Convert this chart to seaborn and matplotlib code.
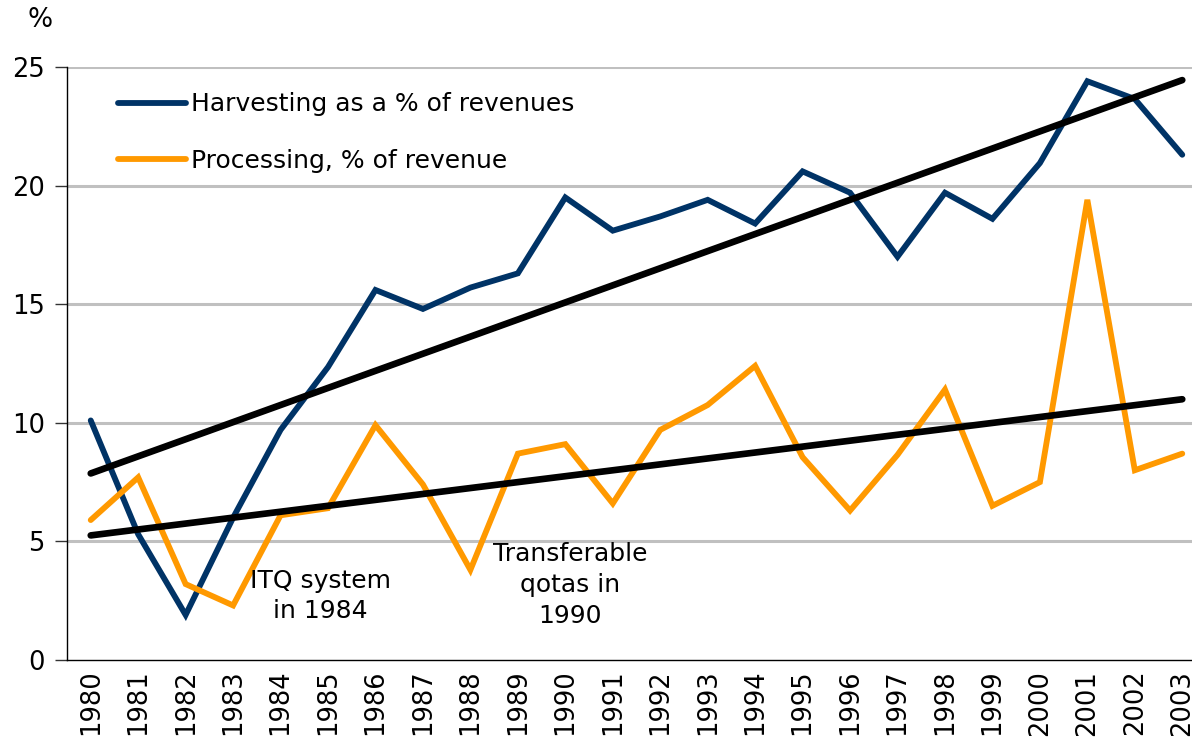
import numpy as np
import pandas as pd
import matplotlib
matplotlib.use("Agg")
import matplotlib.pyplot as plt
import seaborn as sns

# data
years = list(range(1980, 2004))
harvesting = [10.1, 5.3, 1.9, 6.0, 9.7, 12.35, 15.6, 14.8, 15.7, 16.3, 19.5, 18.1,
              18.7, 19.4, 18.4, 20.6, 19.7, 17.0, 19.7, 18.6, 20.95, 24.4, 23.65, 21.3]
processing = [5.9, 7.7, 3.2, 2.3, 6.1, 6.4, 9.9, 7.4, 3.8, 8.7, 9.1, 6.6,
              9.7, 10.75, 12.4, 8.55, 6.3, 8.65, 11.4, 6.5, 7.5, 19.4, 8.0, 8.7]
series_names = ["Harvesting as a % of revenues", "Processing, % of revenue"]
colors = ["#003366", "#FF9900"]

sns.set_style("white")
plt.rcParams['font.family'] = ['DejaVu Sans']
plt.rcParams['text.color'] = 'black'
plt.rcParams['xtick.color'] = 'black'
plt.rcParams['ytick.color'] = 'black'

pos = np.arange(len(years))
df = pd.DataFrame({
    "pos": np.concatenate([pos, pos]),
    "value": harvesting + processing,
    "series": [series_names[0]] * len(years) + [series_names[1]] * len(years),
})

fig = plt.figure(figsize=(11.92, 7.40), dpi=100)
ax = fig.add_axes([67 / 1192, 80 / 740, 1139 / 1192, 593 / 740])

for y in [5, 10, 15, 20, 25]:
    ax.axhline(y, color="#C0C0C0", lw=2.2, zorder=0)

sns.lineplot(data=df, x="pos", y="value", hue="series", palette=colors,
             linewidth=4.2, ax=ax, legend=False, zorder=3,
             solid_capstyle="round", solid_joinstyle="miter")

# linear trend lines
for vals in [harvesting, processing]:
    k, b = np.polyfit(pos, vals, 1)
    ax.plot(pos, k * pos + b, color="black", lw=4.8, zorder=4, solid_capstyle="round")

ax.set_xlim(-0.5, len(years) - 0.5)
ax.set_ylim(0, 25)
ax.set_yticks([0, 5, 10, 15, 20, 25])
ax.set_xticks(pos)
ax.set_xticklabels([str(y) for y in years], rotation=90, fontsize=18.5)
ax.set_xticks(pos[:-1] + 0.5, minor=True)
ax.tick_params(axis="x", which="major", length=0, pad=7)
ax.tick_params(axis="x", which="minor", length=8, width=1, color="#333333", direction="out")
ax.tick_params(axis="y", labelsize=18.5, length=9, width=1, color="#333333", direction="out",
               left=True, pad=7)
ax.set_xlabel("")
ax.set_ylabel("")
for s in ["top", "right"]:
    ax.spines[s].set_visible(False)
for s in ["left", "bottom"]:
    ax.spines[s].set_color("black")
    ax.spines[s].set_linewidth(1)

fig.text(40 / 1192, 1 - 20 / 740, "%", fontsize=19, ha="center", va="center")

ax.text(4.84, 2.7, "ITQ system\nin 1984", fontsize=18, ha="center", va="center", linespacing=1.3)
ax.text(10.1, 3.16, "Transferable\nqotas in\n1990", fontsize=18, ha="center", va="center", linespacing=1.38)

handles = [plt.Line2D([], [], color=c, lw=4.2, solid_capstyle="round") for c in colors]
ax.legend(handles, series_names, loc="upper left", bbox_to_anchor=(0.0448, 0.957),
          frameon=False, fontsize=18, handlelength=2.7, handletextpad=0.2,
          labelspacing=1.3, borderpad=0, borderaxespad=0)

fig.savefig("out.png", dpi=100)
